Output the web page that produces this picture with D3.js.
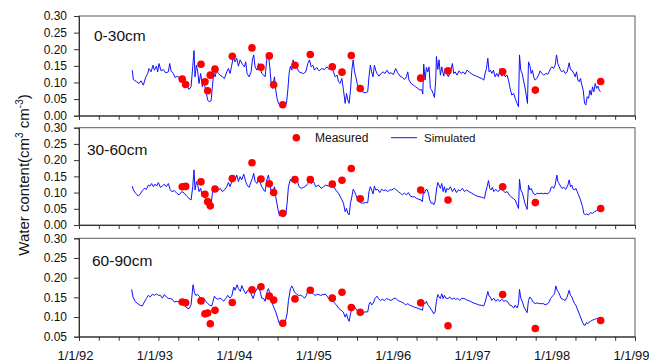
<!DOCTYPE html>
<html><head><meta charset="utf-8">
<script src="https://cdn.jsdelivr.net/npm/d3@7"></script>
<style>
html,body{margin:0;padding:0;background:#fff;}
svg{display:block;font-family:Arial,"Liberation Sans",sans-serif;}
</style></head><body>
<svg id="chart" width="649" height="362"></svg>
<script>
// Measured sampling dates (decimal years)
const measuredDates = [1993.300,1993.343,1993.536,1993.586,1993.620,1993.653,1993.712,1993.930,1994.178,1994.291,1994.396,1994.451,1994.565,1994.719,1994.912,1995.189,1995.311,1995.428,1995.541,1996.302,1996.646,1997.334,1997.745,1998.568];
// Measured water content per layer
const measured0_30  = [0.110,0.094,0.155,0.102,0.075,0.122,0.140,0.179,0.204,0.146,0.180,0.093,0.033,0.152,0.184,0.147,0.131,0.181,0.082,0.113,0.135,0.132,0.077,0.103];
const measured30_60 = [0.118,0.119,0.133,0.095,0.072,0.059,0.111,0.143,0.192,0.142,0.127,0.100,0.036,0.140,0.140,0.126,0.138,0.174,0.081,0.108,0.077,0.118,0.069,0.051];
const measured60_90 = [0.138,0.136,0.141,0.108,0.110,0.083,0.117,0.137,0.169,0.177,0.153,0.143,0.084,0.146,0.168,0.148,0.163,0.124,0.112,0.136,0.078,0.157,0.071,0.091];

// Simulated water content [decimal year, value]
const simulated0_30 = [[1992.671,0.137],[1992.684,0.109],[1992.726,0.102],[1992.755,0.097],[1992.781,0.105],[1992.810,0.092],[1992.839,0.115],[1992.865,0.127],[1992.881,0.142],[1992.907,0.132],[1992.932,0.152],[1992.949,0.137],[1992.974,0.149],[1992.991,0.132],[1993.007,0.157],[1993.033,0.135],[1993.062,0.139],[1993.091,0.129],[1993.125,0.132],[1993.142,0.157],[1993.159,0.135],[1993.188,0.127],[1993.209,0.115],[1993.243,0.119],[1993.272,0.109],[1993.301,0.112],[1993.335,0.099],[1993.360,0.091],[1993.385,0.079],[1993.411,0.087],[1993.432,0.147],[1993.448,0.196],[1993.461,0.117],[1993.478,0.152],[1993.495,0.132],[1993.511,0.097],[1993.532,0.127],[1993.553,0.087],[1993.570,0.107],[1993.595,0.077],[1993.621,0.047],[1993.637,0.042],[1993.663,0.045],[1993.679,0.087],[1993.696,0.129],[1993.713,0.117],[1993.734,0.137],[1993.755,0.127],[1993.776,0.122],[1993.805,0.117],[1993.831,0.112],[1993.860,0.132],[1993.881,0.142],[1993.902,0.127],[1993.923,0.152],[1993.944,0.178],[1993.965,0.162],[1993.986,0.173],[1994.007,0.149],[1994.028,0.168],[1994.057,0.155],[1994.083,0.147],[1994.099,0.162],[1994.116,0.127],[1994.141,0.117],[1994.167,0.132],[1994.183,0.168],[1994.200,0.183],[1994.217,0.147],[1994.242,0.137],[1994.259,0.157],[1994.276,0.147],[1994.301,0.127],[1994.326,0.122],[1994.343,0.117],[1994.364,0.168],[1994.385,0.183],[1994.402,0.147],[1994.419,0.097],[1994.435,0.082],[1994.461,0.117],[1994.477,0.077],[1994.494,0.052],[1994.511,0.037],[1994.536,0.029],[1994.561,0.032],[1994.587,0.029],[1994.612,0.037],[1994.629,0.077],[1994.645,0.127],[1994.662,0.149],[1994.679,0.137],[1994.696,0.168],[1994.713,0.147],[1994.729,0.157],[1994.746,0.142],[1994.771,0.132],[1994.797,0.129],[1994.826,0.127],[1994.855,0.132],[1994.881,0.157],[1994.902,0.168],[1994.923,0.147],[1994.944,0.152],[1994.965,0.137],[1994.994,0.145],[1995.023,0.135],[1995.057,0.142],[1995.091,0.139],[1995.120,0.147],[1995.149,0.139],[1995.175,0.152],[1995.204,0.132],[1995.225,0.117],[1995.250,0.122],[1995.267,0.102],[1995.288,0.097],[1995.309,0.112],[1995.330,0.077],[1995.351,0.037],[1995.368,0.067],[1995.385,0.047],[1995.401,0.037],[1995.418,0.077],[1995.435,0.137],[1995.452,0.168],[1995.469,0.132],[1995.485,0.117],[1995.502,0.097],[1995.519,0.082],[1995.544,0.077],[1995.569,0.072],[1995.603,0.069],[1995.635,0.072],[1995.651,0.117],[1995.668,0.152],[1995.685,0.132],[1995.702,0.117],[1995.719,0.152],[1995.735,0.137],[1995.752,0.127],[1995.777,0.119],[1995.803,0.127],[1995.828,0.132],[1995.853,0.127],[1995.878,0.137],[1995.903,0.127],[1995.929,0.129],[1995.958,0.124],[1995.987,0.142],[1996.013,0.129],[1996.042,0.119],[1996.071,0.115],[1996.097,0.109],[1996.122,0.117],[1996.139,0.132],[1996.155,0.107],[1996.181,0.097],[1996.210,0.092],[1996.239,0.087],[1996.265,0.082],[1996.294,0.077],[1996.315,0.079],[1996.328,0.065],[1996.340,0.155],[1996.357,0.107],[1996.374,0.145],[1996.391,0.132],[1996.407,0.147],[1996.424,0.082],[1996.441,0.077],[1996.458,0.067],[1996.475,0.055],[1996.491,0.107],[1996.500,0.178],[1996.517,0.139],[1996.533,0.168],[1996.550,0.122],[1996.567,0.147],[1996.592,0.119],[1996.609,0.142],[1996.626,0.127],[1996.651,0.117],[1996.676,0.132],[1996.701,0.157],[1996.718,0.127],[1996.735,0.132],[1996.760,0.122],[1996.785,0.135],[1996.811,0.127],[1996.836,0.132],[1996.861,0.125],[1996.886,0.137],[1996.911,0.132],[1996.937,0.127],[1996.970,0.122],[1997.004,0.119],[1997.037,0.115],[1997.071,0.112],[1997.096,0.107],[1997.113,0.127],[1997.130,0.142],[1997.147,0.173],[1997.163,0.132],[1997.180,0.137],[1997.197,0.127],[1997.218,0.137],[1997.239,0.117],[1997.260,0.127],[1997.281,0.117],[1997.302,0.142],[1997.323,0.119],[1997.344,0.132],[1997.365,0.117],[1997.390,0.122],[1997.407,0.107],[1997.432,0.077],[1997.449,0.062],[1997.474,0.067],[1997.491,0.052],[1997.516,0.037],[1997.533,0.027],[1997.546,0.183],[1997.562,0.137],[1997.579,0.127],[1997.596,0.107],[1997.613,0.087],[1997.630,0.062],[1997.646,0.037],[1997.659,0.162],[1997.676,0.152],[1997.693,0.127],[1997.709,0.137],[1997.726,0.115],[1997.743,0.107],[1997.764,0.112],[1997.785,0.122],[1997.806,0.135],[1997.827,0.127],[1997.852,0.122],[1997.877,0.127],[1997.903,0.125],[1997.919,0.132],[1997.936,0.142],[1997.953,0.147],[1997.974,0.142],[1997.995,0.152],[1998.012,0.183],[1998.029,0.157],[1998.045,0.147],[1998.062,0.137],[1998.079,0.132],[1998.100,0.137],[1998.121,0.127],[1998.146,0.132],[1998.171,0.159],[1998.188,0.139],[1998.205,0.137],[1998.230,0.127],[1998.247,0.117],[1998.264,0.132],[1998.281,0.107],[1998.297,0.102],[1998.314,0.112],[1998.331,0.092],[1998.348,0.077],[1998.365,0.037],[1998.381,0.032],[1998.398,0.057],[1998.415,0.052],[1998.432,0.077],[1998.449,0.062],[1998.465,0.087],[1998.482,0.072],[1998.499,0.097],[1998.516,0.082],[1998.533,0.089],[1998.549,0.077],[1998.566,0.072]];

const simulated30_60 = [[1992.671,0.120],[1992.684,0.108],[1992.713,0.098],[1992.747,0.089],[1992.772,0.096],[1992.797,0.106],[1992.823,0.113],[1992.848,0.110],[1992.873,0.123],[1992.894,0.120],[1992.915,0.128],[1992.936,0.118],[1992.957,0.126],[1992.978,0.120],[1992.999,0.131],[1993.024,0.116],[1993.049,0.120],[1993.075,0.126],[1993.100,0.118],[1993.125,0.128],[1993.146,0.110],[1993.167,0.103],[1993.201,0.106],[1993.230,0.098],[1993.259,0.093],[1993.293,0.103],[1993.327,0.098],[1993.356,0.089],[1993.385,0.082],[1993.411,0.077],[1993.432,0.118],[1993.448,0.170],[1993.461,0.108],[1993.478,0.134],[1993.495,0.123],[1993.511,0.103],[1993.532,0.113],[1993.553,0.087],[1993.570,0.098],[1993.595,0.082],[1993.621,0.077],[1993.637,0.069],[1993.663,0.062],[1993.679,0.098],[1993.696,0.113],[1993.713,0.110],[1993.734,0.118],[1993.755,0.108],[1993.780,0.113],[1993.805,0.103],[1993.831,0.108],[1993.860,0.118],[1993.881,0.131],[1993.902,0.118],[1993.923,0.134],[1993.944,0.149],[1993.965,0.139],[1993.986,0.154],[1994.007,0.134],[1994.028,0.149],[1994.049,0.139],[1994.074,0.157],[1994.099,0.134],[1994.116,0.123],[1994.141,0.116],[1994.167,0.134],[1994.183,0.144],[1994.200,0.159],[1994.217,0.134],[1994.242,0.128],[1994.259,0.149],[1994.276,0.134],[1994.301,0.118],[1994.326,0.108],[1994.343,0.103],[1994.364,0.139],[1994.385,0.154],[1994.402,0.128],[1994.419,0.103],[1994.435,0.093],[1994.461,0.118],[1994.477,0.087],[1994.503,0.051],[1994.524,0.028],[1994.553,0.031],[1994.578,0.026],[1994.603,0.031],[1994.620,0.067],[1994.637,0.118],[1994.662,0.141],[1994.679,0.134],[1994.696,0.149],[1994.721,0.128],[1994.746,0.139],[1994.771,0.118],[1994.797,0.113],[1994.826,0.116],[1994.855,0.120],[1994.881,0.128],[1994.902,0.141],[1994.923,0.128],[1994.952,0.134],[1994.981,0.118],[1995.015,0.123],[1995.049,0.113],[1995.078,0.118],[1995.107,0.123],[1995.141,0.120],[1995.175,0.128],[1995.204,0.118],[1995.233,0.108],[1995.267,0.098],[1995.301,0.082],[1995.330,0.067],[1995.351,0.041],[1995.368,0.051],[1995.385,0.036],[1995.401,0.031],[1995.418,0.067],[1995.435,0.087],[1995.452,0.110],[1995.469,0.103],[1995.485,0.093],[1995.511,0.077],[1995.540,0.069],[1995.569,0.067],[1995.603,0.069],[1995.635,0.069],[1995.651,0.103],[1995.668,0.118],[1995.685,0.108],[1995.702,0.096],[1995.719,0.120],[1995.735,0.108],[1995.761,0.110],[1995.786,0.100],[1995.811,0.110],[1995.836,0.106],[1995.861,0.108],[1995.887,0.103],[1995.912,0.108],[1995.937,0.108],[1995.971,0.113],[1995.996,0.108],[1996.021,0.103],[1996.046,0.098],[1996.071,0.093],[1996.097,0.098],[1996.122,0.093],[1996.147,0.100],[1996.172,0.089],[1996.197,0.087],[1996.223,0.087],[1996.252,0.082],[1996.281,0.079],[1996.307,0.077],[1996.323,0.072],[1996.336,0.103],[1996.349,0.098],[1996.365,0.108],[1996.382,0.110],[1996.399,0.098],[1996.416,0.077],[1996.433,0.067],[1996.449,0.069],[1996.466,0.062],[1996.483,0.072],[1996.500,0.108],[1996.517,0.131],[1996.533,0.123],[1996.550,0.113],[1996.567,0.128],[1996.584,0.103],[1996.601,0.118],[1996.617,0.100],[1996.634,0.113],[1996.651,0.108],[1996.676,0.118],[1996.701,0.103],[1996.727,0.113],[1996.752,0.100],[1996.777,0.108],[1996.802,0.106],[1996.827,0.113],[1996.853,0.103],[1996.878,0.108],[1996.911,0.103],[1996.945,0.098],[1996.979,0.093],[1997.012,0.089],[1997.046,0.087],[1997.079,0.085],[1997.105,0.082],[1997.121,0.103],[1997.138,0.118],[1997.155,0.137],[1997.172,0.113],[1997.189,0.108],[1997.205,0.116],[1997.222,0.103],[1997.247,0.110],[1997.273,0.103],[1997.298,0.108],[1997.323,0.113],[1997.340,0.106],[1997.365,0.100],[1997.390,0.103],[1997.415,0.093],[1997.441,0.087],[1997.466,0.082],[1997.491,0.077],[1997.516,0.062],[1997.533,0.051],[1997.546,0.141],[1997.562,0.108],[1997.583,0.098],[1997.604,0.077],[1997.621,0.062],[1997.642,0.048],[1997.659,0.123],[1997.676,0.108],[1997.693,0.113],[1997.718,0.098],[1997.743,0.093],[1997.768,0.098],[1997.793,0.096],[1997.819,0.098],[1997.844,0.096],[1997.869,0.098],[1997.903,0.096],[1997.928,0.103],[1997.945,0.116],[1997.961,0.118],[1997.978,0.113],[1997.995,0.123],[1998.016,0.154],[1998.029,0.134],[1998.045,0.128],[1998.062,0.120],[1998.079,0.113],[1998.104,0.116],[1998.129,0.110],[1998.155,0.123],[1998.171,0.139],[1998.188,0.118],[1998.205,0.123],[1998.222,0.110],[1998.239,0.108],[1998.255,0.113],[1998.272,0.103],[1998.289,0.093],[1998.314,0.077],[1998.339,0.057],[1998.356,0.036],[1998.373,0.031],[1998.390,0.034],[1998.415,0.031],[1998.440,0.038],[1998.465,0.036],[1998.491,0.041],[1998.516,0.044],[1998.541,0.046],[1998.566,0.051]];

const simulated60_90 = [[1992.663,0.170],[1992.680,0.151],[1992.705,0.140],[1992.739,0.134],[1992.768,0.130],[1992.797,0.128],[1992.823,0.138],[1992.848,0.147],[1992.873,0.155],[1992.898,0.151],[1992.923,0.158],[1992.949,0.155],[1992.974,0.159],[1992.999,0.155],[1993.024,0.155],[1993.049,0.148],[1993.075,0.157],[1993.100,0.151],[1993.125,0.147],[1993.150,0.147],[1993.175,0.145],[1993.201,0.138],[1993.230,0.140],[1993.259,0.138],[1993.293,0.136],[1993.327,0.130],[1993.356,0.123],[1993.385,0.121],[1993.411,0.131],[1993.436,0.182],[1993.453,0.163],[1993.469,0.155],[1993.495,0.157],[1993.520,0.151],[1993.545,0.145],[1993.570,0.148],[1993.595,0.140],[1993.621,0.134],[1993.646,0.130],[1993.671,0.128],[1993.688,0.140],[1993.705,0.153],[1993.721,0.148],[1993.747,0.145],[1993.772,0.148],[1993.797,0.145],[1993.822,0.140],[1993.847,0.147],[1993.873,0.155],[1993.898,0.148],[1993.923,0.153],[1993.948,0.176],[1993.965,0.168],[1993.990,0.182],[1994.007,0.172],[1994.032,0.165],[1994.049,0.180],[1994.074,0.168],[1994.099,0.159],[1994.125,0.168],[1994.150,0.172],[1994.167,0.159],[1994.192,0.147],[1994.217,0.163],[1994.242,0.172],[1994.259,0.180],[1994.276,0.168],[1994.301,0.148],[1994.326,0.147],[1994.343,0.140],[1994.368,0.165],[1994.385,0.172],[1994.410,0.155],[1994.427,0.138],[1994.452,0.125],[1994.477,0.113],[1994.503,0.096],[1994.519,0.085],[1994.545,0.083],[1994.570,0.083],[1994.595,0.087],[1994.620,0.108],[1994.637,0.142],[1994.662,0.172],[1994.679,0.179],[1994.696,0.172],[1994.713,0.163],[1994.738,0.159],[1994.763,0.155],[1994.788,0.155],[1994.813,0.153],[1994.839,0.148],[1994.864,0.155],[1994.881,0.168],[1994.902,0.172],[1994.923,0.163],[1994.948,0.159],[1994.973,0.155],[1995.007,0.158],[1995.040,0.155],[1995.074,0.157],[1995.099,0.158],[1995.124,0.153],[1995.149,0.145],[1995.175,0.148],[1995.200,0.140],[1995.225,0.134],[1995.250,0.128],[1995.275,0.121],[1995.301,0.117],[1995.326,0.113],[1995.351,0.100],[1995.368,0.108],[1995.385,0.096],[1995.401,0.089],[1995.418,0.108],[1995.435,0.121],[1995.460,0.130],[1995.485,0.121],[1995.511,0.114],[1995.540,0.113],[1995.569,0.111],[1995.603,0.113],[1995.635,0.113],[1995.651,0.131],[1995.668,0.138],[1995.685,0.131],[1995.702,0.134],[1995.727,0.147],[1995.752,0.153],[1995.769,0.147],[1995.794,0.142],[1995.819,0.145],[1995.845,0.142],[1995.870,0.147],[1995.895,0.145],[1995.929,0.142],[1995.962,0.147],[1995.987,0.148],[1996.013,0.142],[1996.038,0.140],[1996.063,0.138],[1996.088,0.135],[1996.113,0.131],[1996.139,0.134],[1996.164,0.130],[1996.189,0.128],[1996.223,0.125],[1996.256,0.123],[1996.281,0.121],[1996.307,0.119],[1996.323,0.117],[1996.340,0.136],[1996.357,0.134],[1996.374,0.140],[1996.391,0.131],[1996.416,0.125],[1996.441,0.117],[1996.466,0.108],[1996.483,0.113],[1996.500,0.140],[1996.517,0.157],[1996.533,0.151],[1996.550,0.147],[1996.567,0.159],[1996.584,0.147],[1996.601,0.155],[1996.617,0.148],[1996.643,0.147],[1996.668,0.151],[1996.693,0.145],[1996.718,0.148],[1996.743,0.145],[1996.769,0.147],[1996.794,0.142],[1996.819,0.148],[1996.844,0.147],[1996.869,0.145],[1996.895,0.142],[1996.928,0.140],[1996.962,0.136],[1996.995,0.134],[1997.029,0.131],[1997.063,0.130],[1997.096,0.128],[1997.113,0.138],[1997.130,0.151],[1997.147,0.165],[1997.163,0.153],[1997.180,0.151],[1997.197,0.142],[1997.222,0.148],[1997.247,0.140],[1997.273,0.145],[1997.298,0.140],[1997.323,0.145],[1997.348,0.140],[1997.373,0.142],[1997.399,0.138],[1997.424,0.130],[1997.449,0.128],[1997.474,0.123],[1997.491,0.130],[1997.516,0.123],[1997.533,0.134],[1997.546,0.170],[1997.562,0.148],[1997.583,0.138],[1997.604,0.125],[1997.625,0.117],[1997.642,0.111],[1997.659,0.142],[1997.676,0.151],[1997.693,0.147],[1997.718,0.138],[1997.743,0.134],[1997.768,0.136],[1997.793,0.134],[1997.819,0.134],[1997.844,0.134],[1997.869,0.131],[1997.903,0.134],[1997.919,0.138],[1997.936,0.147],[1997.953,0.151],[1997.970,0.155],[1997.987,0.159],[1998.003,0.179],[1998.020,0.168],[1998.037,0.163],[1998.054,0.155],[1998.071,0.147],[1998.096,0.145],[1998.121,0.142],[1998.146,0.151],[1998.171,0.168],[1998.188,0.155],[1998.205,0.151],[1998.222,0.142],[1998.239,0.134],[1998.255,0.130],[1998.272,0.121],[1998.289,0.113],[1998.314,0.100],[1998.339,0.087],[1998.356,0.080],[1998.373,0.079],[1998.390,0.086],[1998.407,0.083],[1998.423,0.087],[1998.440,0.089],[1998.465,0.092],[1998.491,0.094],[1998.516,0.096],[1998.541,0.097],[1998.566,0.094]];

const panelLabels = ["0-30cm","30-60cm","60-90cm"];
const yDomains = [[0,0.30],[0,0.30],[0.05,0.30]];
const yTickValues = [[0,0.05,0.10,0.15,0.20,0.25,0.30],[0,0.05,0.10,0.15,0.20,0.25,0.30],[0.05,0.10,0.15,0.20,0.25,0.30]];
const xYears = [1992,1993,1994,1995,1996,1997,1998,1999];
const legendLabels = ["Measured","Simulated"];
const yTitle = "Water content(cm";

const svg = d3.select("#chart");
const left = 79, right = 635;
const panels = [{top:16,bottom:115.7},{top:127.7,bottom:225},{top:238.3,bottom:336.7}];
const measuredSets = [measured0_30, measured30_60, measured60_90];
const simSets = [simulated0_30, simulated30_60, simulated60_90];
const labelPos = [{x:94,dy:24.7},{x:87,dy:27.3},{x:92,dy:27.4}];

const x = d3.scaleLinear().domain([1992,1999]).range([left,right]);
const quarterTicks = d3.range(0,29).map(i => 1992 + i*0.25);

panels.forEach((p,i) => {
  const y = d3.scaleLinear().domain(yDomains[i]).range([p.bottom,p.top]);
  const g = svg.append("g");
  g.append("rect").attr("x",left).attr("y",p.top).attr("width",right-left).attr("height",p.bottom-p.top)
    .attr("fill","none").attr("stroke","#5a5a5a").attr("stroke-width",1);
  const line = d3.line().x(d=>x(d[0])).y(d=>y(d[1]));
  g.append("path").datum(simSets[i]).attr("d",line).attr("fill","none")
    .attr("stroke","#1010ff").attr("stroke-width",1).attr("stroke-linejoin","round");
  g.selectAll("circle.m").data(measuredDates.map((d,k)=>[d,measuredSets[i][k]])).enter()
    .append("circle").attr("class","m").attr("cx",d=>x(d[0])).attr("cy",d=>y(d[1])).attr("r",3.8).attr("fill","#ff0000");
  const ya = g.append("g").attr("transform",`translate(${left},0)`)
    .call(d3.axisLeft(y).tickValues(yTickValues[i]).tickFormat(d3.format(".2f")).tickSize(5).tickPadding(7));
  ya.select(".domain").attr("stroke","#333");
  ya.selectAll(".tick line").attr("stroke","#333");
  ya.selectAll("text").attr("font-size","12px").attr("fill","#111").attr("font-family","Arial, 'Liberation Sans', sans-serif");
  const xa = g.append("g").attr("transform",`translate(0,${p.bottom})`)
    .call(d3.axisBottom(x).tickValues(quarterTicks).tickSize(4)
      .tickFormat(d => (i===2 && Number.isInteger(d)) ? "1/1/" + String(d).slice(2) : ""));
  xa.select(".domain").attr("stroke","#333");
  xa.selectAll(".tick line").attr("stroke","#333");
  xa.selectAll("text").attr("font-size","13px").attr("fill","#111").attr("font-family","Arial, 'Liberation Sans', sans-serif")
    .attr("y",23.3).attr("dy",0).attr("dx",-4);
  g.append("text").attr("x",labelPos[i].x).attr("y",p.top+labelPos[i].dy)
    .attr("font-size","15.5px").attr("fill","#111").text(panelLabels[i]);
});

const lg = svg.append("g");
lg.append("circle").attr("cx",296.3).attr("cy",137.7).attr("r",3.8).attr("fill","#ff0000");
lg.append("text").attr("x",315).attr("y",141.8).attr("font-size","12px").attr("fill","#111").text(legendLabels[0]);
lg.append("line").attr("x1",391).attr("x2",417).attr("y1",137.7).attr("y2",137.7).attr("stroke","#1010ff").attr("stroke-width",1);
lg.append("text").attr("x",424).attr("y",141.8).attr("font-size","11.6px").attr("fill","#111").text(legendLabels[1]);

const yt = svg.append("text").attr("transform","translate(28.5,175) rotate(-90)")
  .attr("text-anchor","middle").attr("font-size","15px").attr("fill","#111");
yt.append("tspan").text(yTitle);
yt.append("tspan").attr("font-size","10px").attr("dy",-6).text("3");
yt.append("tspan").attr("dy",6).text(" cm");
yt.append("tspan").attr("font-size","10px").attr("dy",-6).text("-3");
yt.append("tspan").attr("dy",6).text(")");
</script>
</body></html>
